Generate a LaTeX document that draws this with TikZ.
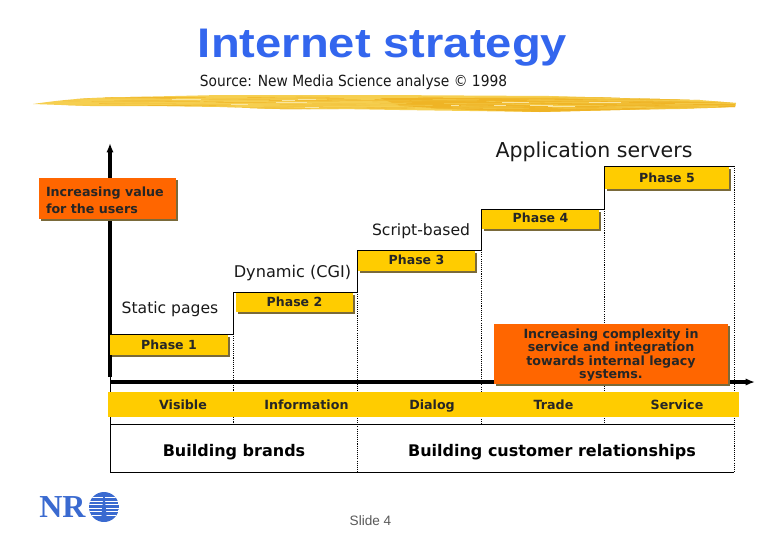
\documentclass[tikz,border=0pt]{standalone}
\usepackage{fontspec}
\setmainfont{DejaVu Sans}
\newfontfamily\arialf{Liberation Sans}
\newfontfamily\serifb{Liberation Serif}
\usetikzlibrary{arrows.meta}
\definecolor{gold}{HTML}{FFCC00}
\definecolor{orng}{HTML}{FF6600}
\definecolor{shad}{HTML}{7A6A3A}
\definecolor{ttl}{HTML}{3366EE}
\definecolor{nrb}{HTML}{3A6AD0}
\definecolor{brusha}{HTML}{F6CF50}
\definecolor{brushb}{HTML}{EFB425}
\newcommand{\fs}[1]{\fontsize{#1}{#1}\selectfont}
\tikzset{
  x=0.75pt,y=-0.75pt,
  boxbase/.style={anchor=center,inner sep=0pt,outer sep=0pt,font=\fs{9.4}\bfseries,text=black!85,align=center},
  phasebox/.style={draw=none,fill=gold},
  orangebox/.style={draw=none,fill=orng},
  shadow/.style={fill=shad,draw=none},
  stepline/.style={line width=0.6pt,black},
  dotline/.style={line width=0.7pt,black,dash pattern=on 0.8pt off 0.8pt},
  axis/.style={line width=2.4pt,black,-{Latex[length=7pt,width=5.5pt]}},
  steplabel/.style={anchor=center,inner sep=0pt,font=\fs{11.7},text=black!90},
  barlabel/.style={anchor=base,inner sep=0pt,font=\fs{9.5}\bfseries,text=black!85},
  buildlabel/.style={anchor=base,inner sep=0pt,font=\fs{12}\bfseries,text=black},
}
% name,x1,y1,x2,y2,style,text y,text
\newcommand{\shbox}[8]{%
  \fill[shadow] (#2+2,#3+2) rectangle (#4+2,#5+2);
  \fill[#6] (#2,#3) rectangle (#4,#5);
  \node[boxbase] (#1) at ({(#2+#4)/2},#7) {#8};
}
\newcommand{\brushpath}{(33,104) .. controls (60,100) and (90,97) .. (130,97)
  -- (220,95) -- (300,95) -- (380,95) -- (550,96) -- (620,98) -- (700,100) -- (736,103)
  -- (735,107) -- (680,109) -- (620,110) -- (540,112) -- (470,111) -- (400,110) -- (340,109)
  -- (280,109) -- (220,107) -- (150,106) -- (90,106) -- cycle}
\begin{document}
\begin{tikzpicture}
\useasboundingbox (0,0) rectangle (780,540);
\fill[white] (0,0) rectangle (780,540);

% brush stroke
\begin{scope}
\clip \brushpath;
\fill[brusha] (20,85) rectangle (745,120);
\fill[brushb] (380,98) -- (550,98) -- (700,102) -- (735,104) -- (735,107) -- (620,110) -- (540,112) -- (470,110) -- (400,106) -- cycle;
\pgfmathsetseed{4711}
\foreach \i in {1,...,160}{
  \pgfmathsetmacro{\xa}{60+rnd*620}
  \pgfmathsetmacro{\ln}{15+rnd*70}
  \pgfmathsetmacro{\ya}{97+rnd*12}
  \pgfmathsetmacro{\mx}{100*rnd}
  \draw[line width=0.6pt,color=brusha!\mx!brushb,opacity=.8] (\xa,\ya) -- (\xa+\ln,\ya+0.3);
}
\foreach \i in {1,...,12}{
  \pgfmathsetmacro{\xa}{90+rnd*560}
  \pgfmathsetmacro{\ln}{6+rnd*26}
  \pgfmathsetmacro{\ya}{99+rnd*9}
  \draw[line width=0.4pt,color=white!45!brusha] (\xa,\ya) -- (\xa+\ln,\ya);
}
\end{scope}

% title
\node[anchor=base,inner sep=0pt,text=ttl] (title) at (382.5,57) {\scalebox{1.14}[1]{\arialf\fs{31}\bfseries Internet strategy}};
\node[anchor=center,inner sep=0pt,text=black!90] (source) at (353.5,82.5) {\scalebox{0.9}[1]{\fs{11.5}Source: New Media Science analyse © 1998}};

% step corners
\coordinate (s0) at (110,334);
\coordinate (s1) at (233.5,334);
\coordinate (s1t) at (233.5,292);
\coordinate (s2) at (357,292);
\coordinate (s2t) at (357,250);
\coordinate (s3) at (481,250);
\coordinate (s3t) at (481,209);
\coordinate (s4) at (604,209);
\coordinate (s4t) at (604,166);
\coordinate (s5) at (734,166);
\coordinate (d1) at (233.5,424);
\coordinate (d2) at (357,472);
\coordinate (d3) at (481,424);
\coordinate (d4) at (604,424);
\coordinate (d5) at (734,472);
\coordinate (bl) at (110,472);
\coordinate (tl) at (110,424);
\coordinate (ax0) at (110,377);
\coordinate (axY) at (110,143);
\coordinate (ax1) at (110,382);
\coordinate (axX) at (755,382);

% steps, dotted
\draw[dotline] (s1) -- (d1);
\draw[dotline] (s2) -- (d2);
\draw[dotline] (s3) -- (d3);
\draw[dotline] (s4) -- (d4);
\draw[dotline] (s5) -- (d5);
\draw[stepline] (s0) -- (s1) -- (s1t) -- (s2) -- (s2t) -- (s3) -- (s3t) -- (s4) -- (s4t) -- (s5);
\draw[stepline] (ax0) -- (bl) -- (d2) -- (bl -| d5);
\draw[stepline] (tl) -- (d5 |- tl);

% axes
\draw[axis] (ax0) -- (axY);
\draw[axis] (ax1) -- (axX);

% bar
\fill[gold] (108,392) rectangle (739,417);
\node[barlabel] (visible) at (183,409.5) {Visible};
\node[barlabel] (info) at (306.5,409.5) {Information};
\node[barlabel] (dialog) at (432,409.5) {Dialog};
\node[barlabel] (trade) at (553.5,409.5) {Trade};
\node[barlabel] (service) at (677,409.5) {Service};

% phases
\shbox{p1}{110}{334.5}{228}{355}{phasebox}{345}{Phase 1}
\shbox{p2}{236}{293}{353}{312}{phasebox}{302}{Phase 2}
\shbox{p3}{358}{251}{475}{271}{phasebox}{260}{Phase 3}
\shbox{p4}{482}{210}{599}{229}{phasebox}{218}{Phase 4}
\shbox{p5}{605}{167}{729}{189}{phasebox}{178}{Phase 5}

% orange
\shbox{valuebox}{39}{178}{176}{219}{orangebox}{199}{}
\node[boxbase,align=left,anchor=west,font=\fs{9.5}\bfseries] (valuetxt) at (46,200.5) {Increasing value\\[3.2pt]for the users};
\shbox{complexbox}{494}{324}{728}{384}{orangebox}{354}{}
\node[boxbase,font=\fs{9.5}\bfseries,align=center] (complextxt) at (611,355) {Increasing complexity in\\[0.5pt]service and integration\\[0.5pt]towards internal legacy\\[0.5pt]systems.};

% step labels
\node[steplabel] (static) at (170,309) {Static pages};
\node[steplabel,font=\fs{12.1}] (dynamic) at (292.5,273) {Dynamic (CGI)};
\node[steplabel] (script) at (421,231) {Script-based};
\node[steplabel,font=\fs{15.4}] (apps) at (594,152) {Application servers};

% building
\node[buildlabel] (brands) at (234,456.5) {Building brands};
\node[buildlabel] (cust) at (552,456.5) {Building customer relationships};

% logo
\node[anchor=base,inner sep=0pt,text=nrb] (nr) at (62.5,517) {\serifb\fs{24}\bfseries NR};
\begin{scope}
\clip (104,507) circle (15);
\fill[nrb] (89,492) rectangle (119,522);
\foreach \yy in {497,500.5,504,507.5,511,514.5}{\fill[white] (88,\yy) rectangle (120,\yy+1.4);}
\fill[nrb] (103.5,494) -- (104.5,494) -- (107,521) -- (101,521) -- cycle;
\end{scope}

\node[anchor=center,inner sep=0pt,text=black!65] (slide) at (370.5,521) {\arialf\fs{10.2}Slide 4};
\end{tikzpicture}
\end{document}
